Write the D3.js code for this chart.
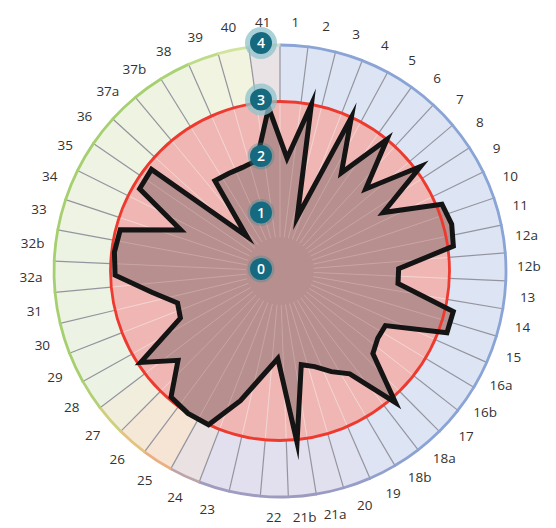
<!DOCTYPE html>
<html>
<head>
<meta charset="utf-8">
<script src="https://cdn.jsdelivr.net/npm/d3@7"></script>
<style>
  body { margin: 0; background: #fff; }
  svg { display: block; }
</style>
</head>
<body>
<svg width="556" height="528"></svg>
<script>
const categories = ["1","2","3","4","5","6","7","8","9","10","11","12a","12b","13","14","15","16a","16b","17","18a","18b","19","20","21a","21b","22",
  "23","24","25","26","27","28","29","30","31","32a","32b","33","34","35","36","37a","37b","38","39","40","41"];
const values = [2.0,3.0,1.0,3.0,2.05,3.0,2.1,3.1,2.1,3.1,3.15,3.1,2.1,2.1,3.15,3.15,2.1,2.1,2.2,3.1,2.2,2.0,1.8,1.7,3.05,1.55,
  2.4,3.0,3.0,2.95,2.4,2.95,1.95,1.9,2.3,2.92,2.95,2.92,1.9,2.88,2.9,0.85,1.97,1.95,1.95,2.0,2.9];
const valueTicks = [0, 1, 2, 3, 4];

const svg = d3.select("svg");
const cx = 280, cy = 271;
const g = svg.append("g").attr("transform", `translate(${cx},${cy})`);

const r = d3.scaleLinear().domain([0, 4]).range([0, 226]);

// one empty slot sits between "22" and "23"
const gapAt = categories.indexOf("22") + 1;
const nSlots = categories.length + 1;
const slotOf = i => i + (i >= gapAt ? 1 : 0);
const angleDeg = d3.scaleLinear().domain([0, gapAt, gapAt + 1, nSlots]).range([0, 185, 193, 360]);
const ang = s => angleDeg(s) * Math.PI / 180;

// band tint by angle
const bandColor = d3.scaleLinear()
  .domain([0, 150, 170, 200, 212, 224, 236, 330, 350, 356])
  .range(["#dde5f5", "#dde5f5", "#e2dfee", "#e2dfee", "#f6e4d4", "#f4ead8", "#edf3e4", "#eef3e2", "#f2f4df", "#e9e3e6"]);
const rimColor = d3.scaleLinear()
  .domain([0, 140, 170, 200, 214, 226, 240, 330, 350, 360])
  .range(["#8aa4d6", "#8aa4d6", "#9c9ac2", "#a09cc0", "#f2b27c", "#d8d080", "#a6d070", "#a6d070", "#d6e6a0", "#d0d0d8"]);

const slots = d3.range(nSlots);

// outer band sectors
const bandArc = d3.arc().innerRadius(r(3)).outerRadius(r(4));
g.append("g").selectAll("path")
  .data(slots)
  .join("path")
  .attr("d", s => bandArc({ startAngle: ang(s), endAngle: ang(s + 1) }))
  .attr("fill", s => s === nSlots - 1 ? "#e9e3e6" : bandColor(angleDeg(s + 0.5)));

// pink inner disk
g.append("circle").attr("r", r(3)).attr("fill", "#f0b6b3");

// faint spokes inside
g.append("g").selectAll("line")
  .data(slots)
  .join("line")
  .attr("x1", s => r(0.6) * Math.sin(ang(s)))
  .attr("y1", s => -r(0.6) * Math.cos(ang(s)))
  .attr("x2", s => r(3) * Math.sin(ang(s)))
  .attr("y2", s => -r(3) * Math.cos(ang(s)))
  .attr("stroke", "#fbe6e4")
  .attr("stroke-width", 1)
  .attr("opacity", 0.7);

// data polygon fill
const radial = d3.lineRadial()
  .angle((d, i) => ang(slotOf(i) + 0.5))
  .radius(d => r(d))
  .curve(d3.curveLinearClosed);

g.append("path")
  .attr("d", radial(values))
  .attr("fill", "#b78f8e");

// spokes over the polygon, faint
g.append("g").selectAll("line")
  .data(slots)
  .join("line")
  .attr("x1", s => r(0.6) * Math.sin(ang(s)))
  .attr("y1", s => -r(0.6) * Math.cos(ang(s)))
  .attr("x2", s => r(3) * Math.sin(ang(s)))
  .attr("y2", s => -r(3) * Math.cos(ang(s)))
  .attr("stroke", "#e8cfcd")
  .attr("stroke-width", 1)
  .attr("opacity", 0.35);

// grey spokes in the band
g.append("g").selectAll("line")
  .data(slots)
  .join("line")
  .attr("x1", s => r(3) * Math.sin(ang(s)))
  .attr("y1", s => -r(3) * Math.cos(ang(s)))
  .attr("x2", s => r(4) * Math.sin(ang(s)))
  .attr("y2", s => -r(4) * Math.cos(ang(s)))
  .attr("stroke", "#94949e")
  .attr("stroke-width", 1.2);

// red ring at 3
g.append("circle").attr("r", r(3))
  .attr("fill", "none")
  .attr("stroke", "#ee3a2e")
  .attr("stroke-width", 2.8);

// coloured rim at 4
const rimArc = d3.arc().innerRadius(r(4) - 1.4).outerRadius(r(4) + 1.4);
g.append("g").selectAll("path")
  .data(slots)
  .join("path")
  .attr("d", s => rimArc({ startAngle: ang(s) - 0.002, endAngle: ang(s + 1) + 0.002 }))
  .attr("fill", s => rimColor(angleDeg(s + 0.5)));

// polygon outline
g.append("path")
  .attr("d", radial(values))
  .attr("fill", "none")
  .attr("stroke", "#141414")
  .attr("stroke-width", 5)
  .attr("stroke-linejoin", "miter")
  .attr("stroke-miterlimit", 10);

// value badges
const badges = g.append("g").selectAll("g")
  .data(valueTicks)
  .join("g")
  .attr("transform", d => `translate(-19,${-r(d) - 2})`);

badges.append("circle")
  .attr("r", d => d >= 3 ? 16 : 13.5)
  .attr("fill", d => d >= 3 ? "#8fc3cb" : "#3b8a98")
  .attr("opacity", d => d >= 3 ? 0.75 : 0.35);

badges.append("circle")
  .attr("r", 11)
  .attr("fill", "#166a80");

badges.append("text")
  .attr("text-anchor", "middle")
  .attr("dy", "0.36em")
  .attr("fill", "#fff")
  .style("font-family", "Open Sans, sans-serif")
  .style("font-size", "14px")
  .style("font-weight", "600")
  .text(d => d);

// category labels
g.append("g").selectAll("text")
  .data(categories)
  .join("text")
  .attr("x", (d, i) => 249 * Math.sin(ang(slotOf(i) + 0.5)))
  .attr("y", (d, i) => Math.min(-249 * Math.cos(ang(slotOf(i) + 0.5)), 246))
  .attr("text-anchor", "middle")
  .attr("dy", "0.35em")
  .attr("fill", "#333")
  .style("font-family", "Open Sans, sans-serif")
  .style("font-size", "13.5px")
  .text(d => d);
</script>
</body>
</html>
